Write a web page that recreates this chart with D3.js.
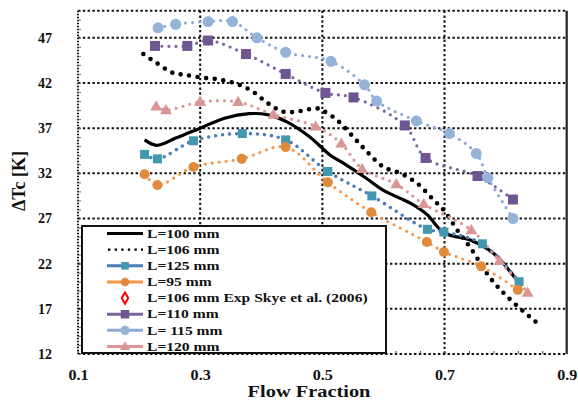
<!DOCTYPE html>
<html>
<head>
<meta charset="utf-8">
<script src="https://cdn.jsdelivr.net/npm/d3@7"></script>
<style>
  html, body { margin: 0; padding: 0; background: #fff; }
  svg { display: block; font-family: "Liberation Serif", "Times New Roman", serif; font-weight: bold; }
</style>
</head>
<body>
<svg id="chart" width="578" height="407"></svg>
<script>
// ---- data ----
const xTicks = [0.1, 0.3, 0.5, 0.7, 0.9];
const yTicks = [12, 17, 22, 27, 32, 37, 42, 47];

// L=100 mm (simulation, solid line)
const flow100 = [0.209, 0.229, 0.26, 0.30, 0.34, 0.38, 0.41, 0.442, 0.48, 0.513, 0.535, 0.573, 0.60, 0.644, 0.672, 0.691, 0.707, 0.743, 0.781, 0.819];
const dT100   = [35.7, 35.1, 35.9, 37.0, 38.1, 38.6, 38.5, 37.7, 36.0, 34.0, 33.1, 31.4, 30.1, 28.7, 27.4, 25.9, 25.2, 24.6, 23.1, 20.1];

// L=106 mm (simulation, dotted line)
const flow106 = [0.207, 0.229, 0.256, 0.275, 0.301, 0.33, 0.36, 0.385, 0.412, 0.437, 0.464, 0.491, 0.502, 0.524, 0.551, 0.573, 0.60, 0.628, 0.655, 0.68, 0.699, 0.721, 0.743, 0.775, 0.808, 0.854];
const dT106   = [45.2, 44.2, 43.1, 42.9, 42.6, 42.4, 41.9, 41.1, 39.7, 38.8, 38.9, 39.2, 38.9, 37.9, 36.0, 34.4, 32.7, 32.0, 30.9, 29.2, 27.9, 25.7, 23.7, 20.4, 18.0, 15.3];

// L=125 mm
const flow125 = [0.209, 0.230, 0.289, 0.369, 0.440, 0.509, 0.581, 0.672, 0.699, 0.762, 0.822];
const dT125   = [34.1, 33.6, 35.6, 36.4, 35.7, 32.2, 29.5, 25.8, 25.5, 24.2, 20.0];

// L=95 mm
const flow95 = [0.209, 0.230, 0.289, 0.368, 0.440, 0.509, 0.580, 0.671, 0.699, 0.760, 0.820];
const dT95   = [31.9, 30.7, 32.7, 33.6, 34.9, 31.0, 27.7, 24.4, 23.3, 21.7, 19.1];

// L=106 mm experimental (Skye et al. 2006)
const flowExp = [];
const dTExp   = [];

// L=110 mm
const flow110 = [0.226, 0.279, 0.313, 0.375, 0.440, 0.505, 0.551, 0.635, 0.669, 0.754, 0.812];
const dT110   = [46.1, 46.1, 46.7, 45.2, 43.0, 40.9, 40.4, 37.3, 33.7, 31.7, 29.1];

// L=115 mm
const flow115 = [0.231, 0.260, 0.313, 0.353, 0.393, 0.440, 0.514, 0.569, 0.589, 0.654, 0.708, 0.752, 0.771, 0.812];
const dT115   = [48.1, 48.5, 48.8, 48.8, 47.0, 45.4, 44.4, 41.8, 40.0, 37.8, 36.4, 34.2, 31.5, 27.0];

// L=120 mm
const flow120 = [0.228, 0.244, 0.300, 0.362, 0.420, 0.489, 0.531, 0.565, 0.621, 0.666, 0.744, 0.790, 0.836];
const dT120   = [39.4, 39.0, 39.9, 39.9, 38.5, 37.2, 35.3, 32.5, 30.8, 28.6, 25.7, 22.3, 18.8];

const zip = (xs, ys) => xs.map((x, i) => ({ x, y: ys[i] }));

const series = [
  { name: "L=100 mm", pts: zip(flow100, dT100), kind: "solid", line: "#000" },
  { name: "L=106 mm", pts: zip(flow106, dT106), kind: "dots", line: "#000", dotW: 4.6, gap: 8.6 },
  { name: "L=125 mm", pts: zip(flow125, dT125), kind: "marked", line: "#4A7EBB", fill: "#4198AF", shape: "square", size: 9, dotW: 3.6, gap: 7 },
  { name: "L=95 mm",  pts: zip(flow95, dT95),   kind: "marked", line: "#F79646", fill: "#E08A3C", shape: "circle", size: 10, dotW: 3.2, gap: 7 },
  { name: "L=106 mm Exp Skye et al. (2006)", pts: zip(flowExp, dTExp), kind: "exp" },
  { name: "L=110 mm", pts: zip(flow110, dT110), kind: "marked", line: "#7D62A0", fill: "#6E5691", shape: "square", size: 10, dotW: 3.2, gap: 7 },
  { name: "L= 115 mm", pts: zip(flow115, dT115), kind: "marked", line: "#8FAAD8", fill: "#95B3D7", shape: "circle", size: 11, dotW: 3.2, gap: 7 },
  { name: "L=120 mm", pts: zip(flow120, dT120), kind: "marked", line: "#D99694", fill: "#D99694", shape: "triangle", size: 12, dotW: 3.2, gap: 7 }
];

// ---- layout ----
const svg = d3.select("#chart");
const plotL = 78, plotR = 566.7, plotT = 10.7, plotB = 354;
const x = d3.scaleLinear().domain([0.1, 0.9]).range([plotL, plotR]);
const y = d3.scaleLinear().domain([12, 50]).range([plotB, plotT]);

const grid = svg.append("g");
// horizontal gridlines
grid.selectAll("line.h").data(yTicks.filter(v => v > 12).concat([50])).join("line")
  .attr("x1", plotL).attr("x2", plotR)
  .attr("y1", d => y(d)).attr("y2", d => y(d))
  .attr("stroke", "#111").attr("stroke-width", 2).attr("stroke-dasharray", "2.4,2.4");
// vertical gridlines
grid.selectAll("line.v").data([0.3, 0.5, 0.7]).join("line")
  .attr("x1", d => x(d)).attr("x2", d => x(d))
  .attr("y1", plotT).attr("y2", plotB)
  .attr("stroke", "#111").attr("stroke-width", 2).attr("stroke-dasharray", "2.4,2.4");
// bottom axis (dotted) and left axis (dotted), right border solid
grid.append("line").attr("x1", plotL).attr("x2", plotR).attr("y1", plotB).attr("y2", plotB)
  .attr("stroke", "#111").attr("stroke-width", 2).attr("stroke-dasharray", "2.4,2.4");
grid.append("line").attr("x1", plotL).attr("x2", plotL).attr("y1", plotT).attr("y2", plotB)
  .attr("stroke", "#111").attr("stroke-width", 2).attr("stroke-dasharray", "1.5,1.5");
grid.append("line").attr("x1", plotR).attr("x2", plotR).attr("y1", plotT).attr("y2", plotB)
  .attr("stroke", "#222").attr("stroke-width", 2.2);

// minor ticks via D3 axes
const yMinor = d3.range(12, 50.01, 1);
svg.append("g").attr("transform", `translate(${plotL},0)`)
  .call(d3.axisRight(y).tickValues(yMinor).tickSize(3).tickFormat(""))
  .call(g => g.select(".domain").remove())
  .call(g => g.selectAll("line").attr("stroke", "#666").attr("stroke-width", 1));
const xMinor = d3.range(0.1, 0.901, 0.04);
svg.append("g").attr("transform", `translate(0,${plotB})`)
  .call(d3.axisTop(x).tickValues(xMinor).tickSize(3).tickFormat(""))
  .call(g => g.select(".domain").remove())
  .call(g => g.selectAll("line").attr("stroke", "#444").attr("stroke-width", 1));

// tick labels
svg.append("g").attr("transform", `translate(${plotL - 26},0)`)
  .call(d3.axisLeft(y).tickValues(yTicks).tickSize(0).tickPadding(0))
  .call(g => g.select(".domain").remove())
  .call(g => g.selectAll("text").attr("font-family", "Liberation Serif, serif")
    .attr("font-weight", "bold").attr("font-size", 14).attr("fill", "#111"));
svg.append("g").attr("transform", `translate(0,${plotB + 16})`)
  .call(d3.axisBottom(x).tickValues(xTicks).tickSize(0).tickPadding(0).tickFormat(d3.format(".1f")))
  .call(g => g.select(".domain").remove())
  .call(g => g.selectAll("text").attr("font-family", "Liberation Serif, serif")
    .attr("font-weight", "bold").attr("font-size", 14).attr("fill", "#111")
    .attr("transform", "scale(1.15,1)"));

// axis titles
svg.append("text").attr("transform", "translate(309,397) scale(1.2,1)").attr("text-anchor", "middle")
  .attr("font-size", 17).attr("fill", "#111").text("Flow Fraction");
svg.append("text").attr("transform", "translate(25,181) rotate(-90)").attr("text-anchor", "middle")
  .attr("font-size", 18).attr("fill", "#111").text("ΔTc [K]");

// ---- series ----
const smooth = d3.line().x(d => x(d.x)).y(d => y(d.y)).curve(d3.curveCatmullRom.alpha(0.5));
const plot = svg.append("g");

function markerPath(shape, size) {
  if (shape === "square") return d3.symbol(d3.symbolSquare, size * size)();
  if (shape === "circle") return d3.symbol(d3.symbolCircle, Math.PI * (size / 2) * (size / 2))();
  // triangle: width = size
  const h = size * 0.85;
  return `M0,${-h * 0.6}L${size / 2},${h * 0.4}L${-size / 2},${h * 0.4}Z`;
}

series.forEach(s => {
  if (!s.pts.length) return;
  if (s.kind === "solid") {
    plot.append("path").attr("d", smooth(s.pts)).attr("fill", "none")
      .attr("stroke", s.line).attr("stroke-width", 3.2);
  } else {
    plot.append("path").attr("d", smooth(s.pts)).attr("fill", "none")
      .attr("stroke", s.line).attr("stroke-width", s.dotW)
      .attr("stroke-linecap", "round").attr("stroke-dasharray", `0,${s.gap}`);
  }
});
series.filter(s => s.kind === "marked").forEach(s => {
  plot.selectAll(null).data(s.pts).join("path")
    .attr("d", markerPath(s.shape, s.size))
    .attr("transform", d => `translate(${x(d.x)},${y(d.y)})`)
    .attr("fill", s.fill);
});
series.filter(s => s.kind === "exp").forEach(s => {
  plot.selectAll(null).data(s.pts).join("path")
    .attr("d", d3.symbol(d3.symbolDiamond, 40)())
    .attr("transform", d => `translate(${x(d.x)},${y(d.y)})`)
    .attr("fill", "#fff").attr("stroke", "#f00").attr("stroke-width", 2);
});

// ---- legend ----
const lg = svg.append("g");
lg.append("rect").attr("x", 82).attr("y", 226).attr("width", 304).attr("height", 127)
  .attr("fill", "#fff").attr("stroke", "#111").attr("stroke-width", 2);
const ly = d3.scalePoint().domain(series.map(s => s.name)).range([233.5, 346.5]);
const lx1 = 107, lx2 = 143, lmid = 125;
series.forEach(s => {
  const g = lg.append("g").attr("transform", `translate(0,${ly(s.name)})`);
  if (s.kind === "solid") {
    g.append("line").attr("x1", lx1).attr("x2", lx2).attr("stroke", s.line).attr("stroke-width", 3);
  } else if (s.kind === "dots") {
    g.append("line").attr("x1", lx1 + 1).attr("x2", lx2).attr("stroke", s.line).attr("stroke-width", 2.4)
      .attr("stroke-dasharray", "2.4,4.2");
  } else if (s.kind === "marked") {
    g.append("line").attr("x1", lx1).attr("x2", lx2).attr("stroke", s.line).attr("stroke-width", 3);
    g.append("path").attr("d", markerPath(s.shape, s.size * 0.85)).attr("transform", `translate(${lmid},0)`)
      .attr("fill", s.fill);
  } else {
    g.append("path").attr("d", d3.symbol(d3.symbolDiamond, 36)()).attr("transform", `translate(${lmid},0)`)
      .attr("fill", "#fff").attr("stroke", "#f00").attr("stroke-width", 2);
  }
  g.append("text").attr("transform", "translate(147,0) scale(1.3,1)").attr("dy", "0.35em")
    .attr("font-size", 12).attr("fill", "#111").text(s.name);
});
</script>
</body>
</html>
